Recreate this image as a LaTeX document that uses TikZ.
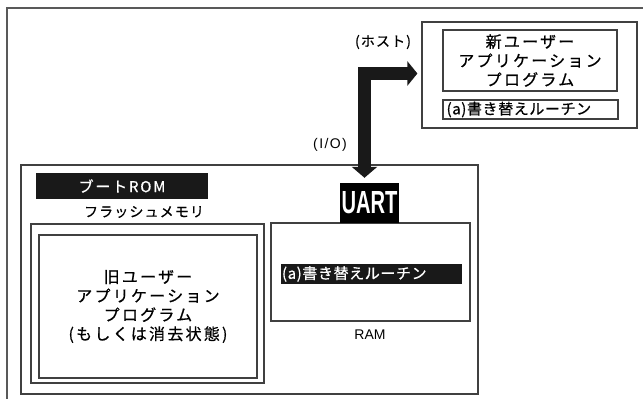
\documentclass[tikz,border=0pt]{standalone}
\usepackage{fontspec}
\setmainfont{Liberation Sans}
\newfontfamily\jpsp[LetterSpace=14,FakeBold=0.6]{Noto Sans CJK JP}
\newfontfamily\jpmid[LetterSpace=4,FakeBold=0.6]{Noto Sans CJK JP}
\newfontfamily\jpboot[LetterSpace=12,FakeBold=0.6]{Noto Sans CJK JP}
\newfontfamily\jpsm[LetterSpace=8,FakeBold=0.6]{Noto Sans CJK JP}
\newfontfamily\lsp[LetterSpace=10]{Liberation Sans}
\usetikzlibrary{arrows.meta}
\begin{document}
\begin{tikzpicture}[x=1pt,y=-1pt,
  box/.style={draw=black!75, line width=1.2pt, inner sep=0pt},
  bar/.style={fill=black!90, inner sep=0pt, text=white},
  lbl/.style={inner sep=0pt},
  bigarrow/.style={line width=12.5pt, black!90, line join=miter,
    {Triangle[width=25pt,length=11pt]}-{Triangle[width=24pt,length=10pt]},
    shorten <=5pt, shorten >=4pt}]
\useasboundingbox (0,0) rectangle (643,399);
\begin{scope}
  \clip (0,0) rectangle (643,399);
  \draw[line width=1.5pt, black!65] (7,8) rectangle (700,450);
\end{scope}
% host side
\node[box, minimum width=215pt, minimum height=106pt] (host) at (529.5,75) {};
\node[box, minimum width=174pt, minimum height=61pt, align=center,
  font=\fontsize{16}{19}\jpsp] (newapp) at (530,60.5)
  {新ユーザー\\アプリケーション\\プログラム};
\node[box, minimum width=175pt, minimum height=19pt] (routineH) at (530.5,109.5) {};
\node[lbl, anchor=west, font=\fontsize{15}{16}\jpmid] (routineHt) at ([xshift=4pt]routineH.west) {(a)書き替えルーチン};
\node[lbl, font=\fontsize{14}{15}\jpsm] (hostlbl) at (383,42) {(ホスト)};
\node[lbl, font=\fontsize{14}{16}\lsp] (iolbl) at (330,145) {(I/O)};
% target side
\node[box, minimum width=457pt, minimum height=229pt] (main) at (249.5,279.5) {};
\node[bar, minimum width=172pt, minimum height=26pt, font=\fontsize{15}{16}\jpboot] (boot) at (122,186) {ブートROM};
\node[lbl, font=\fontsize{14}{15}\jpsm] (flashlbl) at (144,212) {フラッシュメモリ};
\node[box, minimum width=233pt, minimum height=159pt] (flashout) at (147.5,303.5) {};
\node[box, minimum width=218pt, minimum height=143pt, align=center,
  font=\fontsize{16}{19}\jpsp] (flashin) at (148,306.5)
  {旧ユーザー\\アプリケーション\\プログラム\\(もしくは消去状態)};
\node[box, minimum width=199pt, minimum height=98pt] (ram) at (370.5,272) {};
\node[bar, minimum width=181pt, minimum height=20pt] (routineR) at (371.5,274) {};
\node[lbl, anchor=west, text=white, font=\fontsize{15}{16}\jpmid] (routineRt) at ([xshift=1pt]routineR.west) {(a)書き替えルーチン};
\node[lbl, font=\fontsize{14}{16}\selectfont] (ramlbl) at (370,335) {RAM};
\node[fill=black, minimum width=59pt, minimum height=40pt, inner sep=0pt, text=white,
  font=\fontsize{32}{34}\bfseries] (uart) at (369.5,203) {\scalebox{0.63}[1]{UART}};
% connector
\draw[bigarrow] ([xshift=-5pt]uart.north) |- ([yshift=1.5pt]host.west);
\end{tikzpicture}
\end{document}
